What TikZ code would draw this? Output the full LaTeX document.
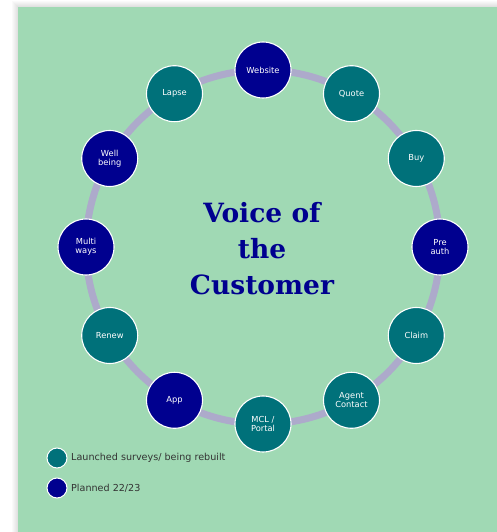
\documentclass[tikz,border=0pt]{standalone}
\usepackage{fontspec}
\setmainfont{DejaVu Sans}
\newfontfamily\titlefont{DejaVu Serif}
\definecolor{bg}{HTML}{A0D9B4}
\definecolor{vocteal}{HTML}{00717A}
\definecolor{vocnavy}{HTML}{00008F}
\definecolor{ringcol}{HTML}{ADAACB}
\definecolor{keytext}{HTML}{333333}
\begin{document}
\begin{tikzpicture}[x=1pt,y=1pt,
  stage/.style={circle, minimum size=56pt, inner sep=0pt, draw=white,
    line width=1.1pt, text=white, align=center,
    font=\fontsize{8.3}{9.3}\selectfont},
  done/.style={stage, fill=vocteal},
  planned/.style={stage, fill=vocnavy},
  keydot/.style={circle, minimum size=20pt, inner sep=0pt, draw=white, line width=1pt},
  keylabel/.style={anchor=west, text=keytext, inner sep=0pt,
    font=\fontsize{9.6}{11}\selectfont}]
\useasboundingbox (0,0) rectangle (497,532);
\fill[white] (0,0) rectangle (497,532);
% soft shadow along the top and left edges of the panel
\foreach \i in {1,...,6}
  \fill[black, opacity=0.02] (18-\i,0) rectangle (497,525+\i);
\fill[bg] (18,0) rectangle (497,525);

% ring
\coordinate (c) at (263,285);
\draw[ringcol, line width=7pt] (c) circle (177);

% stages around the ring
\node[planned] (website) at ([shift={(90:177)}]c)  {Website};
\node[done]    (quote)   at ([shift={(60:177)}]c)  {Quote};
\node[done]    (buy)     at ([shift={(30:177)}]c)  {Buy};
\node[planned] (preauth) at ([shift={(0:177)}]c)   {Pre\\auth};
\node[done]    (claim)   at ([shift={(-30:177)}]c) {Claim};
\node[done]    (agent)   at ([shift={(-60:177)}]c) {Agent\\Contact};
\node[done]    (mcl)     at ([shift={(-90:177)}]c) {MCL /\\Portal};
\node[planned] (app)     at ([shift={(-120:177)}]c) {App};
\node[done]    (renew)   at ([shift={(-150:177)}]c) {Renew};
\node[planned] (multi)   at ([shift={(180:177)}]c) {Multi\\ways};
\node[planned] (well)    at ([shift={(150:177)}]c) {Well\\being};
\node[done]    (lapse)   at ([shift={(120:177)}]c) {Lapse};

% title
\node[text=vocnavy, align=center,
  font=\titlefont\bfseries\fontsize{26.5}{36}\selectfont] (title) at (262,283)
  {Voice of\\the\\Customer};

% key
\node[keydot, fill=vocteal] (keydone) at (57,74) {};
\node[keylabel] (keydonetext) at (71,74) {Launched surveys/ being rebuilt};
\node[keydot, fill=vocnavy] (keyplan) at (57,44) {};
\node[keylabel] (keyplantext) at (71,44) {Planned 22/23};
\end{tikzpicture}
\end{document}
